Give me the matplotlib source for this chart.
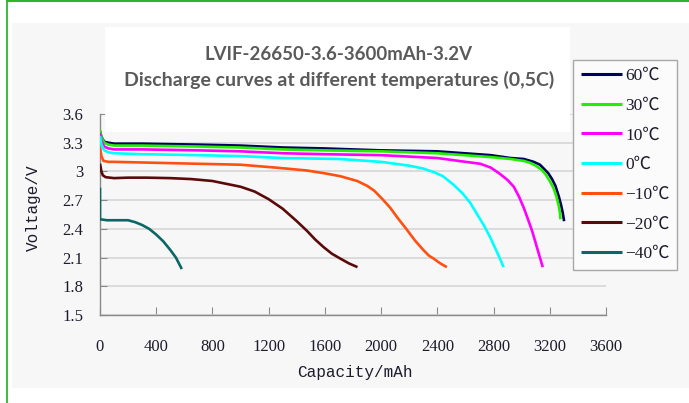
import matplotlib
matplotlib.use("Agg")
import matplotlib.pyplot as plt
from matplotlib.patches import Rectangle
from matplotlib.lines import Line2D

# ---- data ----
labels = ["60℃", "30℃", "10℃", "0℃", "−10℃", "−20℃", "−40℃"]
colors = ["#00005e", "#22ee00", "#ff00ff", "#00ffff", "#ff5010", "#5a0a0a", "#0b6666"]

x_60 = [0, 10, 30, 60, 100, 300, 700, 1000, 1300, 1600, 2000, 2400, 2780, 2920, 3015, 3086, 3130, 3157, 3190, 3216, 3240, 3264, 3280, 3292, 3302]
y_60 = [3.42, 3.36, 3.31, 3.30, 3.29, 3.29, 3.28, 3.27, 3.25, 3.24, 3.22, 3.21, 3.17, 3.14, 3.13, 3.10, 3.07, 3.03, 2.98, 2.92, 2.85, 2.74, 2.65, 2.57, 2.48]

x_30 = [0, 10, 30, 60, 100, 300, 700, 1000, 1300, 1600, 2000, 2400, 2780, 2920, 3015, 3060, 3100, 3140, 3170, 3200, 3225, 3245, 3264, 3272, 3276]
y_30 = [3.43, 3.36, 3.30, 3.28, 3.27, 3.27, 3.26, 3.25, 3.23, 3.22, 3.21, 3.19, 3.15, 3.13, 3.11, 3.09, 3.06, 3.02, 2.97, 2.90, 2.83, 2.75, 2.64, 2.57, 2.50]

x_10 = [0, 10, 30, 60, 100, 300, 700, 1000, 1300, 1600, 2000, 2400, 2550, 2706, 2780, 2840, 2900, 2944, 2980, 3015, 3045, 3074, 3110, 3150]
y_10 = [3.40, 3.32, 3.26, 3.24, 3.23, 3.23, 3.22, 3.21, 3.19, 3.18, 3.17, 3.14, 3.11, 3.08, 3.04, 2.98, 2.91, 2.84, 2.74, 2.62, 2.50, 2.38, 2.20, 2.00]

x_0 = [0, 10, 30, 60, 100, 300, 700, 1000, 1300, 1700, 2000, 2100, 2200, 2300, 2380, 2440, 2516, 2580, 2635, 2680, 2730, 2780, 2830, 2872]
y_0 = [3.37, 3.28, 3.22, 3.20, 3.19, 3.18, 3.17, 3.16, 3.14, 3.13, 3.10, 3.08, 3.06, 3.03, 2.99, 2.95, 2.86, 2.77, 2.67, 2.56, 2.44, 2.30, 2.14, 2.00]

x_m10 = [0, 10, 25, 60, 100, 400, 700, 1000, 1250, 1470, 1600, 1710, 1830, 1900, 1950, 2010, 2065, 2120, 2184, 2240, 2300, 2340, 2373, 2420, 2468]
y_m10 = [3.25, 3.16, 3.11, 3.10, 3.10, 3.09, 3.08, 3.07, 3.04, 3.01, 2.98, 2.95, 2.90, 2.85, 2.80, 2.71, 2.62, 2.51, 2.39, 2.28, 2.18, 2.12, 2.09, 2.04, 2.00]

x_m20 = [0, 10, 20, 40, 100, 200, 330, 500, 650, 800, 900, 1000, 1100, 1200, 1300, 1400, 1472, 1530, 1590, 1650, 1709, 1770, 1832]
y_m20 = [3.08, 3.00, 2.96, 2.94, 2.93, 2.935, 2.935, 2.93, 2.92, 2.90, 2.87, 2.84, 2.79, 2.71, 2.61, 2.48, 2.38, 2.29, 2.21, 2.14, 2.09, 2.04, 2.00]

x_m40 = [0, 0, 50, 100, 150, 200, 250, 300, 350, 400, 450, 500, 540, 582]
y_m40 = [2.83, 2.50, 2.49, 2.49, 2.49, 2.49, 2.47, 2.44, 2.40, 2.34, 2.27, 2.18, 2.10, 1.98]

series_x = [x_60, x_30, x_10, x_0, x_m10, x_m20, x_m40]
series_y = [y_60, y_30, y_10, y_0, y_m10, y_m20, y_m40]

x_ticks = [0, 400, 800, 1200, 1600, 2000, 2400, 2800, 3200, 3600]
y_ticks = [1.5, 1.8, 2.1, 2.4, 2.7, 3.0, 3.3, 3.6]
y_tick_labels = ["1.5", "1.8", "2.1", "2.4", "2.7", "3", "3.3", "3.6"]

title_1 = "LVIF-26650-3.6-3600mAh-3.2V"
title_2 = "Discharge curves at different temperatures (0,5C)"
x_label = "Capacity/mAh"
y_label = "Voltage/V"

# ---- figure ----
W, H = 689, 403
fig = plt.figure(figsize=(W / 100, H / 100), dpi=100)
fig.patch.set_facecolor("white")

def fx(px):
    return px / W

def fy(py):
    return 1 - py / H

# light gray panel
fig.patches.append(Rectangle((fx(12), fy(388)), fx(689) - fx(12), fy(23) - fy(388),
                             transform=fig.transFigure, facecolor="#f7f7f7",
                             edgecolor="none", zorder=-10))
# green frame lines
fig.add_artist(Line2D([fx(7), fx(7)], [0, 1], color="#2fb52f", lw=1.3, transform=fig.transFigure))
fig.add_artist(Line2D([fx(7), 1], [fy(1), fy(1)], color="#2fb52f", lw=1.5, transform=fig.transFigure))

ax = fig.add_axes([fx(100), fy(315), fx(606) - fx(100), fy(114) - fy(315)])
ax.set_facecolor("none")
ax.set_xlim(0, 3600)
ax.set_ylim(1.5, 3.6)
ax.set_axisbelow(True)
ax.yaxis.grid(True, color="#d6d6d6", lw=1.2)
ax.xaxis.grid(False)

# white title box (covers top of plot, below curves)
ax.add_patch(Rectangle((fx(105), fy(132)), fx(570) - fx(105), fy(27) - fy(132),
                       transform=fig.transFigure, facecolor="white", edgecolor="none",
                       zorder=1, clip_on=False))

for xs, ys, c, lab in zip(series_x, series_y, colors, labels):
    ax.plot(xs, ys, color=c, lw=1.9, label=lab, zorder=3,
            solid_joinstyle="round", solid_capstyle="butt")

for s in ["top", "right"]:
    ax.spines[s].set_visible(False)
for s in ["left", "bottom"]:
    ax.spines[s].set_color("#8a8a8a")
    ax.spines[s].set_linewidth(1.0)

tick_font = dict(family=["Liberation Serif"], size=12, color="#1c1c2c")
ax.set_xticks(x_ticks)
ax.set_xticklabels([str(v) for v in x_ticks], **tick_font)
ax.set_yticks(y_ticks)
ax.set_yticklabels(y_tick_labels, **tick_font)
ax.tick_params(axis="x", direction="in", length=6, color="#8a8a8a", pad=17)
ax.tick_params(axis="y", direction="in", length=5, color="#8a8a8a", pad=12)

fig.text(fx(355), fy(372), x_label, ha="center", va="center",
         family=["Liberation Mono"], size=11.5, color="#1c1c2c")
fig.text(fx(33), fy(208), y_label, ha="center", va="center", rotation=90,
         family=["Liberation Mono"], size=11.5, color="#1c1c2c")

fig.text(fx(339), fy(54), title_1, ha="center", va="center",
         family=["Lato"], weight="bold", size=13.4, color="#5a5a5a")
fig.text(fx(339), fy(80), title_2, ha="center", va="center",
         family=["Lato"], weight="bold", size=14.0, color="#5a5a5a")

leg = ax.legend(loc="upper left", bbox_to_anchor=(fx(573), fy(60)),
                bbox_transform=fig.transFigure, frameon=True, fancybox=False,
                borderaxespad=0, borderpad=0.45, handlelength=2.4, handletextpad=0.15,
                labelspacing=0.78,
                prop=dict(family=["Liberation Serif", "Noto Sans CJK SC"], size=12.5))
leg.get_frame().set_edgecolor("#a8a8a8")
leg.get_frame().set_facecolor("#fbfbfb")
leg.get_frame().set_linewidth(1.0)
leg.get_frame().set_alpha(1)
for t in leg.get_texts():
    t.set_color("#1c1c2c")
for h in leg.get_lines():
    h.set_linewidth(2.2)

fig.savefig("out.png", dpi=100)
